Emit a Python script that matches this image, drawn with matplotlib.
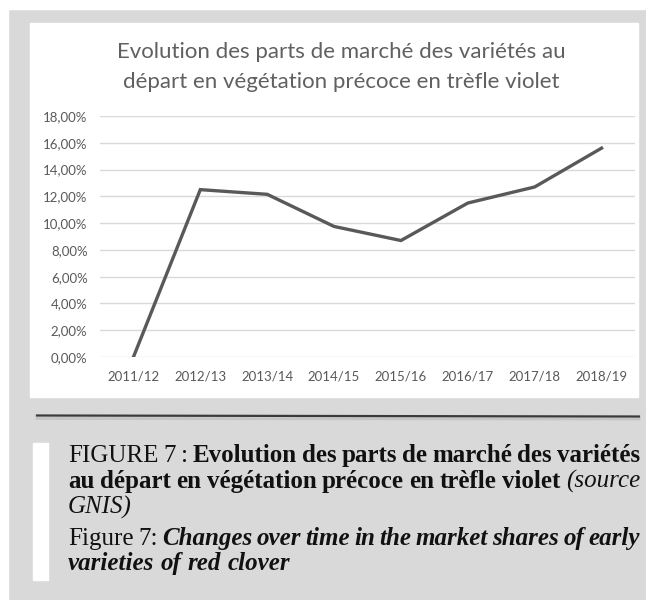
import matplotlib.pyplot as plt
from matplotlib.patches import Rectangle
from matplotlib.lines import Line2D
from matplotlib.ticker import FuncFormatter

W, H = 646, 600

seasons = ['2011/12', '2012/13', '2013/14', '2014/15', '2015/16', '2016/17', '2017/18', '2018/19']
shares = [0.0, 12.5, 12.15, 9.75, 8.7, 11.5, 12.7, 15.6]
y_ticks = [0, 2, 4, 6, 8, 10, 12, 14, 16, 18]

title_lines = ['Evolution des parts de marché des variétés au',
               'départ en végétation précoce en trèfle violet']

# (segments, justified) - style: r regular, b bold, i italic, bi bold italic
caption_lines = [
    ([('FIGURE 7 :', 'r'), ('Evolution des parts de marché des variétés', 'b')], True),
    ([('au départ en végétation précoce en trèfle violet', 'b'), ('(source', 'i')], True),
    ([('GNIS)', 'i')], False),
    ([('Figure 7:', 'r'), ('Changes over time in the market shares of early', 'bi')], True),
    ([('varieties of red clover', 'bi')], False),
]
caption_baselines = [462, 488, 514, 545, 570]


def fx(px):
    return px / W


def fy(py):
    return 1 - py / H


fig = plt.figure(figsize=(6.46, 6.0), dpi=100)
fig.patch.set_facecolor('#d9d9d9')

# outer white border, chart panel, caption bar
for x0, y0, x1, y1, c in [(0, 0, 8, 600, 'white'), (0, 0, 646, 9, 'white'),
                          (30, 23, 638, 397, 'white'), (33, 443, 48, 580, 'white')]:
    fig.patches.append(Rectangle((fx(x0), fy(y1)), (x1 - x0) / W, (y1 - y0) / H,
                                 transform=fig.transFigure, color=c, zorder=-5))

ax = fig.add_axes([fx(100), fy(357), (635 - 100) / W, (357 - 116) / H])
ax.set_facecolor('none')
ax.plot(range(len(seasons)), shares, color='#595959', lw=2.4, solid_joinstyle='miter')
ax.set_xlim(-0.5, len(seasons) - 0.5)
ax.set_ylim(0, 18)
ax.set_xticks(range(len(seasons)))
ax.set_xticklabels(seasons)
ax.set_yticks(y_ticks)
ax.yaxis.set_major_formatter(FuncFormatter(lambda v, p: f'{v:.2f}%'.replace('.', ',')))
ax.yaxis.grid(True, color='#d9d9d9', lw=1)
ax.set_axisbelow(True)
for s in ax.spines.values():
    s.set_visible(False)
ax.tick_params(length=0, labelsize=9.5, labelcolor='#595959')
ax.tick_params(axis='y', pad=9)
ax.tick_params(axis='x', pad=10)
for lab in ax.get_xticklabels() + ax.get_yticklabels():
    lab.set_family('Lato')

for line, base in zip(title_lines, [58, 88]):
    fig.text(fx(341), fy(base), line, ha='center', va='baseline', fontsize=16,
             color='#606060', family='Lato')

# separator line with soft shadow
fig.add_artist(Line2D([fx(37), fx(639)], [fy(418.5), fy(419)], color='#c4c4c4', lw=2))
fig.add_artist(Line2D([fx(37), fx(639)], [fy(415.5), fy(416.5)], color='#3a3a3a', lw=1.6))

# caption, justified word by word
styles = {'r': dict(weight='normal', style='normal'), 'b': dict(weight='bold', style='normal'),
          'i': dict(weight='normal', style='italic'), 'bi': dict(weight='bold', style='italic')}
cap_size = 18
cap_left, cap_right = 68, 640
renderer = fig.canvas.get_renderer()
space_w = 0.25 * cap_size * 100 / 72
for (segments, justify), base in zip(caption_lines, caption_baselines):
    words = [(w, st) for txt, st in segments for w in txt.split()]
    texts = [fig.text(0, fy(base), w, va='baseline', fontsize=cap_size, family='Liberation Serif',
                      color='#111111', **styles[st]) for w, st in words]
    widths = [t.get_window_extent(renderer).width for t in texts]
    gap = (cap_right - cap_left - sum(widths)) / (len(words) - 1) if justify else space_w
    gap = max(gap, 2)
    x = cap_left
    for t, w in zip(texts, widths):
        t.set_x(fx(x))
        x += w + gap

fig.savefig('out.png', dpi=100)
